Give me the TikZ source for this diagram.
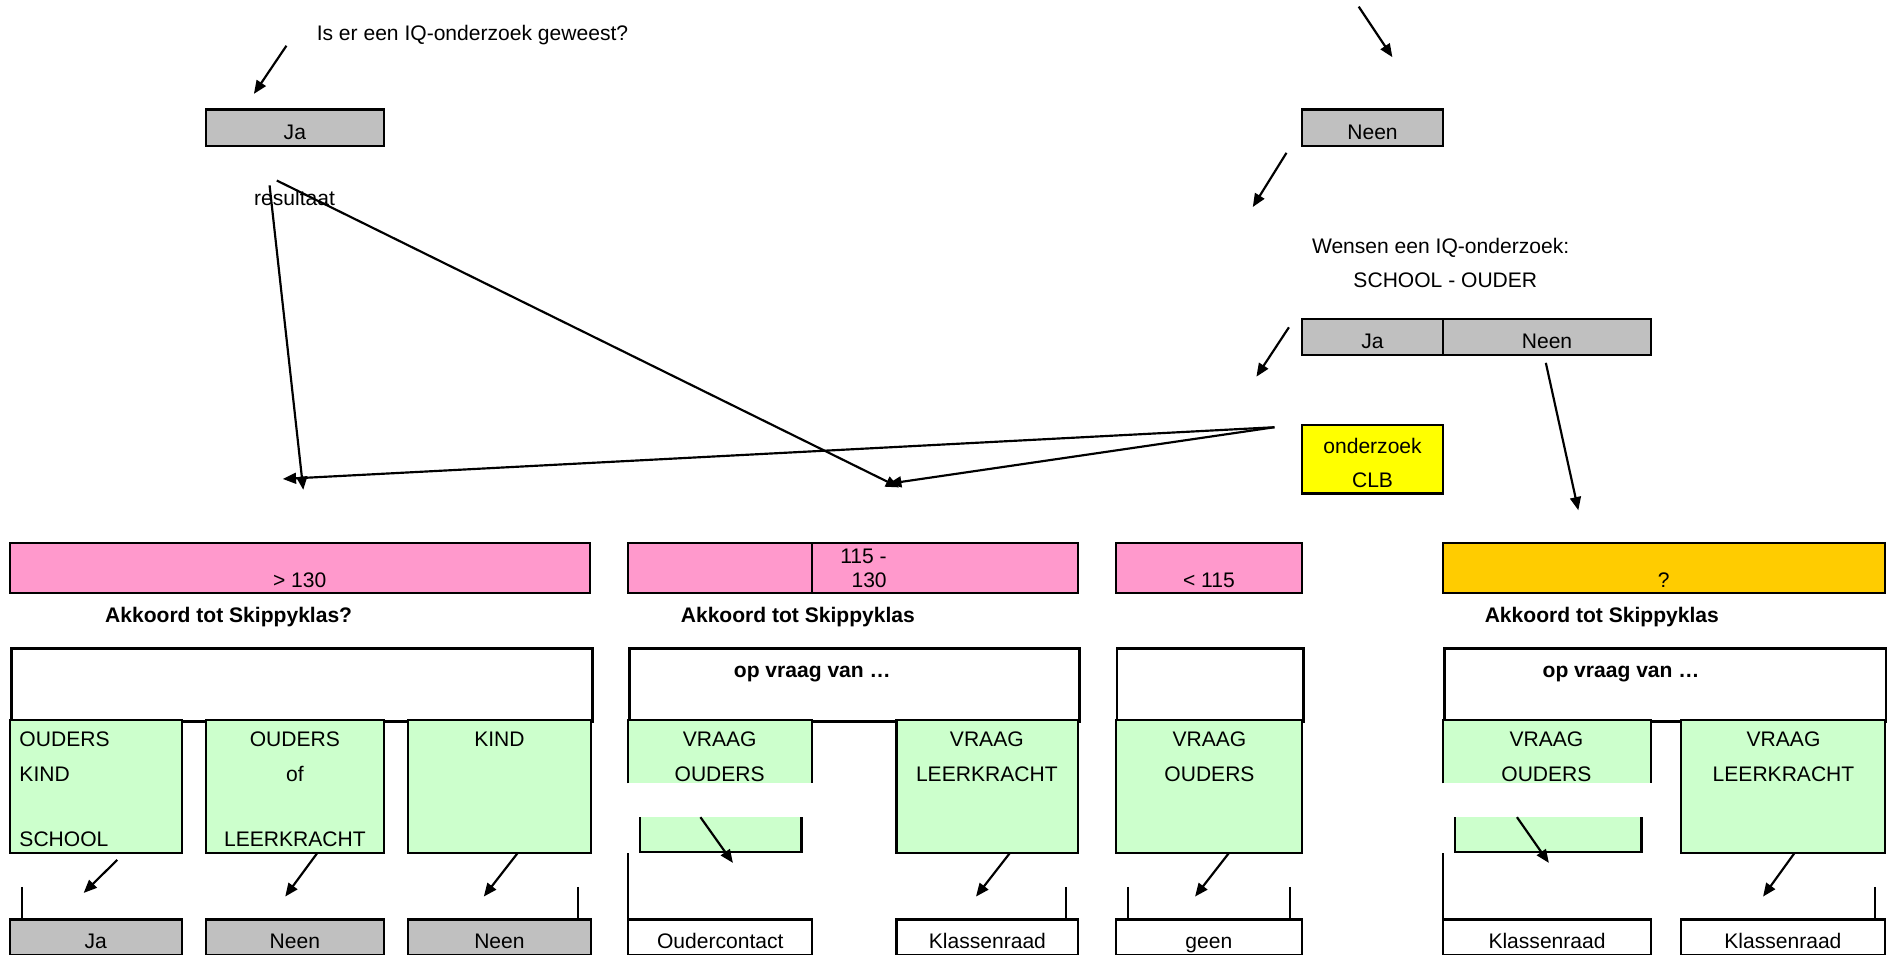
\documentclass[tikz,border=0pt]{standalone}
\usepackage{fontspec}
\setmainfont{Liberation Sans}
\usepackage{tikz}
\usetikzlibrary{arrows.meta}

\definecolor{grijs}{HTML}{C0C0C0}
\definecolor{roze}{HTML}{FF99CC}
\definecolor{geel}{HTML}{FFFF00}
\definecolor{oranje}{HTML}{FFCC00}
\definecolor{groen}{HTML}{CCFFCC}

\newcommand{\lettertype}{\fontsize{17.5}{29}\selectfont}

\tikzset{
    vak/.style={draw, line width=1.8pt, inner sep=0pt, outer sep=0pt, anchor=north west},
    rij/.style={text height=24.5pt, text depth=5.5pt},
    balk/.style={text height=37pt, text depth=5pt},
    kader/.style={draw, line width=2.4pt, inner sep=0pt, anchor=north west, minimum height=60pt},
    groenvak/.style={vak, fill=groen, minimum height=111pt},
    tekst/.style={inner sep=0pt, anchor=base},
    rand/.style={line width=1.8pt},
    pijl/.style={line width=1.8pt, -{Triangle[length=11pt,width=9pt]}},
}

\begin{document}
\begin{tikzpicture}[x=1pt, y=-1pt, font=\lettertype]
    \useasboundingbox (0,0) rectangle (1568,793);
    \clip (0,0) rectangle (1568,793);

    % Vraag bovenaan
    \node[tekst, anchor=base west] (vraag) at (263,34) {Is er een IQ-onderzoek geweest?};
    \node[vak, rij, fill=grijs, minimum width=148pt] (ja) at (171,91) {Ja};
    \node[vak, rij, fill=grijs, minimum width=117pt] (neen) at (1082,91) {Neen};
    \node[tekst, anchor=base west] (resultaat) at (211,171) {resultaat};

    % Tak "Neen": wensen een IQ-onderzoek
    \node[tekst, anchor=base west] (wensen) at (1090,211) {Wensen een IQ-onderzoek:};
    \node[tekst] (wie) at (1201,239) {SCHOOL - OUDER};
    \node[vak, rij, fill=grijs, minimum width=117pt] (wja) at (1082,265) {Ja};
    \node[vak, rij, fill=grijs, minimum width=173pt] (wneen) at (1199,265) {Neen};
    \node[vak, fill=geel, minimum width=117pt, minimum height=57pt] (clb) at (1082,353) {};
    \node[tekst, align=center, font=\fontsize{17.5}{28}\selectfont] (clbtekst) at (1140.5,405) {onderzoek\\CLB};

    % Resultaat IQ
    \node[vak, balk, fill=roze, minimum width=482pt] (iq1) at (8,451) {> 130};
    \node[vak, balk, fill=roze, minimum width=153pt] (iq2a) at (522,451) {};
    \node[vak, balk, fill=roze, minimum width=221pt] (iq2b) at (675,451) {};
    \node[tekst, anchor=base east, align=right, font=\fontsize{17.5}{20}\selectfont] (iq2tekst) at (737,488) {115 -\\130};
    \node[vak, balk, fill=roze, minimum width=155pt] (iq3) at (927,451) {< 115};
    \node[vak, balk, fill=oranje, minimum width=367pt] (iq4) at (1199,451) {?};

    \node[tekst, font=\lettertype\bfseries] (akk1) at (190,517) {Akkoord tot Skippyklas?};
    \node[tekst, font=\lettertype\bfseries] (akk2) at (663,517) {Akkoord tot Skippyklas};
    \node[tekst, font=\lettertype\bfseries] (akk3) at (1331,517) {Akkoord tot Skippyklas};

    % Kaders
    \node[kader, minimum width=483pt] (kA) at (8,538) {};
    \node[kader, minimum width=374pt] (kB) at (522,538) {};
    \node[kader, minimum width=155pt] (kC) at (927,538) {};
    \node[kader, minimum width=367pt] (kD) at (1199,538) {};
    \node[tekst, font=\lettertype\bfseries] (opvraagB) at (675,563) {op vraag van …};
    \node[tekst, font=\lettertype\bfseries] (opvraagD) at (1347,563) {op vraag van …};

    % Groene vakken
    \node[groenvak, minimum width=143pt] (gA1) at (8,598) {};
    \node[groenvak, minimum width=148pt] (gA2) at (171,598) {};
    \node[groenvak, minimum width=152pt] (gA3) at (339,598) {};
    \node[groenvak, minimum width=151pt] (gB2) at (745,598) {};
    \node[groenvak, minimum width=155pt] (gC) at (927,598) {};
    \node[groenvak, minimum width=169pt] (gD2) at (1397,598) {};

    % Gesplitste vakken "VRAAG OUDERS"
    \fill[groen] (522,598) rectangle (675,651);
    \draw[rand] (522,651) -- (522,598) -- (675,598) -- (675,651);
    \fill[groen] (532,679) rectangle (666,708);
    \draw[rand] (532,679) -- (532,708) -- (666,708) -- (666,679);
    \fill[groen] (1199,598) rectangle (1372,651);
    \draw[rand] (1199,651) -- (1199,598) -- (1372,598) -- (1372,651);
    \fill[groen] (1209,679) rectangle (1364,708);
    \draw[rand] (1209,679) -- (1209,708) -- (1364,708) -- (1364,679);

    \node[tekst, anchor=base west, align=left] (tA1) at (16,703) {OUDERS\\KIND\\[25pt]SCHOOL};
    \node[tekst, align=center] (tA2) at (245,703) {OUDERS\\of\\[25pt]LEERKRACHT};
    \node[tekst] (tA3) at (415,620) {KIND};
    \node[tekst, align=center] (tB1) at (598,649) {VRAAG\\OUDERS};
    \node[tekst, align=center] (tB2) at (820,649) {VRAAG\\LEERKRACHT};
    \node[tekst, align=center] (tC) at (1005,649) {VRAAG\\OUDERS};
    \node[tekst, align=center] (tD1) at (1285,649) {VRAAG\\OUDERS};
    \node[tekst, align=center] (tD2) at (1482,649) {VRAAG\\LEERKRACHT};

    % Uitkomsten onderaan
    \node[vak, rij, fill=grijs, minimum width=143pt] (uA1) at (8,764) {Ja};
    \node[vak, rij, fill=grijs, minimum width=148pt] (uA2) at (171,764) {Neen};
    \node[vak, rij, fill=grijs, minimum width=152pt] (uA3) at (339,764) {Neen};
    \node[vak, rij, minimum width=153pt] (uB1) at (522,764) {Oudercontact};
    \node[vak, rij, minimum width=151pt] (uB2) at (745,764) {Klassenraad};
    \node[vak, rij, minimum width=155pt] (uC) at (927,764) {geen};
    \node[vak, rij, minimum width=173pt] (uD1) at (1199,764) {Klassenraad};
    \node[vak, rij, minimum width=169pt] (uD2) at (1397,764) {Klassenraad};

    \foreach \x in {18,480,886,937,1072,1558}
        \draw[rand] (\x,737) -- (\x,764);
    \draw[rand] (522,709) -- (uB1.north west);
    \draw[rand] (1199,709) -- (uD1.north west);

    % Coordinaten voor de pijlen
    \coordinate (v1) at (238,38);     \coordinate (v2) at (211,78);
    \coordinate (n1) at (1129,5.5);   \coordinate (n2) at (1157,47.5);
    \coordinate (n3) at (1069,127);   \coordinate (n4) at (1041,172);
    \coordinate (w1) at (1071,272);   \coordinate (w2) at (1044,313);
    \coordinate (w3) at (1284.5,301.5); \coordinate (w4) at (1311.5,424);
    \coordinate (r1) at (224,154);    \coordinate (r2) at (230,150);
    \coordinate (p1) at (252,407);    \coordinate (p2) at (747,405);
    \coordinate (c0) at (1059,355);
    \coordinate (c1) at (235,398);    \coordinate (c2) at (738,402);
    \coordinate (a1) at (97.5,714.5); \coordinate (b1) at (69.5,742);
    \coordinate (a2) at (263.5,709);  \coordinate (b2) at (237,745);
    \coordinate (a3) at (430,709);    \coordinate (b3) at (402,745);
    \coordinate (a4) at (582,679);    \coordinate (b4) at (609,717);
    \coordinate (a5) at (839,709);    \coordinate (b5) at (811,745);
    \coordinate (a6) at (1021,709);   \coordinate (b6) at (993,745);
    \coordinate (a7) at (1260.5,679); \coordinate (b7) at (1287,717);
    \coordinate (a8) at (1491,709);   \coordinate (b8) at (1465,745);

    % Pijlen
    \draw[pijl] (v1) -- (v2);
    \draw[pijl] (n1) -- (n2);
    \draw[pijl] (n3) -- (n4);
    \draw[pijl] (w1) -- (w2);
    \draw[pijl] (w3) -- (w4);
    \draw[pijl] (r1) -- (p1);
    \draw[pijl] (r2) -- (p2);
    \draw[pijl] (c0) -- (c1);
    \draw[pijl] (c0) -- (c2);
    \foreach \i in {1,...,8}
        \draw[pijl] (a\i) -- (b\i);

\end{tikzpicture}
\end{document}
